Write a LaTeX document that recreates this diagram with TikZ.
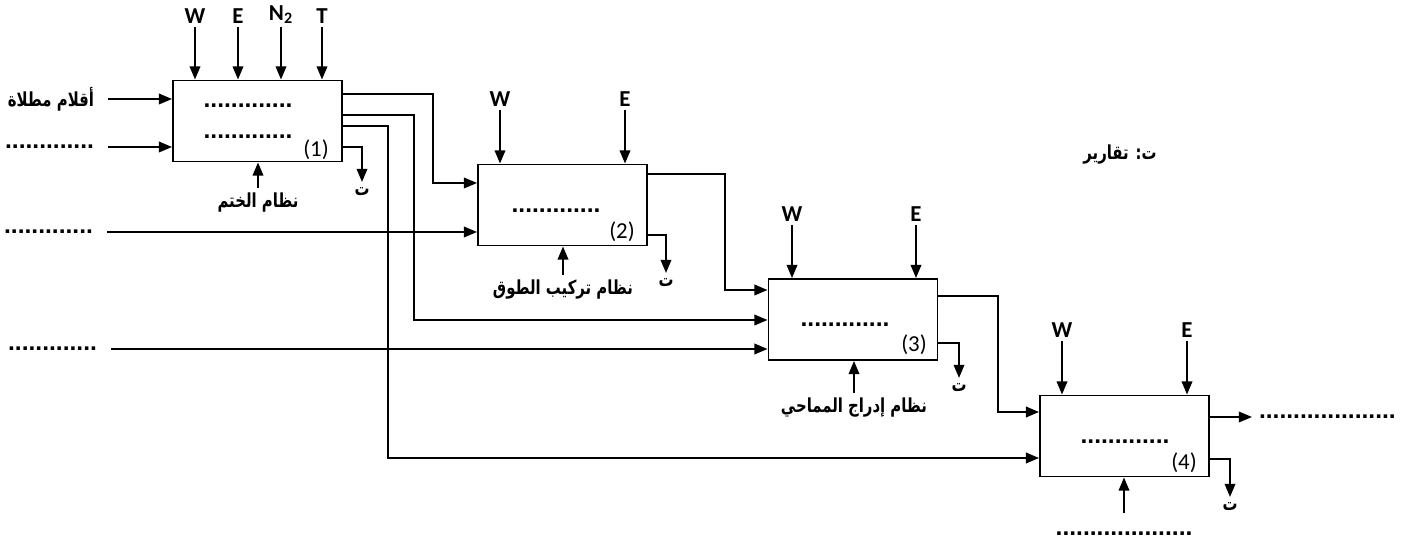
\documentclass[tikz,border=0pt]{standalone}
\usepackage{fontspec}
\setmainfont{Carlito}
\newfontfamily\arabicfont[Script=Arabic, FakeStretch=0.77]{DejaVu Sans}
\newfontfamily\dotfont{Liberation Sans}
\TeXXeTstate=1
\usetikzlibrary{arrows.meta}

\begin{document}
\begin{tikzpicture}[
  x=0.02cm, y=-0.02cm,
  line width=1.1pt,
  >={Triangle[length=7.5pt,width=6pt]},
  blk/.style={draw, minimum width=3.38cm, minimum height=1.62cm, inner sep=0pt},
  arr/.style={->},
  lat/.style={font=\bfseries\fontsize{13}{14}\selectfont, inner sep=1pt, outer ysep=1pt, anchor=south},
  artxt/.style={font=\arabicfont\bfseries\fontsize{11}{13}\selectfont, inner sep=1pt},
  dotln/.style={font=\dotfont\bfseries\fontsize{14}{14}\selectfont, inner sep=0pt},
  num/.style={font=\fontsize{13}{14}\selectfont, inner sep=0pt},
  inlbl/.style={inner sep=1pt, outer xsep=7pt, anchor=east},
  below lbl/.style={anchor=north, outer ysep=2pt},
]
\useasboundingbox (0,0) rectangle (1416,543);

% blocks
\node[blk] (b1) at (257.5,121) {};
\node[blk] (b2) at (562.5,205) {};
\node[blk] (b3) at (853,319.5) {};
\node[blk] (b4) at (1124.5,436) {};

\node[dotln] (d1a) at (248,106) {.............};
\node[dotln] (d1b) at (248,137) {.............};
\node[dotln] (d2) at (556,211) {.............};
\node[dotln] (d3) at (845,325) {.............};
\node[dotln] (d4) at (1125,442) {.............};
\node[num] (n1) at (316,150) {(1)};
\node[num] (n2) at (622,232) {(2)};
\node[num] (n3) at (914,345) {(3)};
\node[num] (n4) at (1184,463) {(4)};

% top inputs
\foreach \x/\t/\n in {195/W/a, 238/E/b, 281/N\textsubscript{2}/c, 322/T/d} {
  \node[lat] (t1\n) at (\x,27) {\t};
  \draw[arr] (t1\n.south) -- (t1\n.south |- b1.north);
}
\foreach \x/\t/\n in {500/W/a, 625/E/b} {
  \node[lat] (t2\n) at (\x,110) {\t};
  \draw[arr] (t2\n.south) -- (t2\n.south |- b2.north);
}
\foreach \x/\t/\n in {792/W/a, 916/E/b} {
  \node[lat] (t3\n) at (\x,225) {\t};
  \draw[arr] (t3\n.south) -- (t3\n.south |- b3.north);
}
\foreach \x/\t/\n in {1062/W/a, 1187/E/b} {
  \node[lat] (t4\n) at (\x,341) {\t};
  \draw[arr] (t4\n.south) -- (t4\n.south |- b4.north);
}

% left inputs
\node[artxt, inlbl] (in1) at (108,99) {\beginR أقلام مطلاة\endR};
\node[dotln, inlbl] (in2) at (108,147) {.............};
\node[dotln, inlbl] (in3) at (107,232) {.............};
\node[dotln, inlbl] (in4) at (111,349) {.............};
\draw[arr] (in1.east) -- (in1.east -| b1.west);
\draw[arr] (in2.east) -- (in2.east -| b1.west);
\draw[arr] (in3.east) -- (in3.east -| b2.west);
\draw[arr] (in4.east) -- (in4.east -| b3.west);

% reports
\node[artxt, below lbl] (r1) at (362,182) {\beginR ت\endR};
\node[artxt, below lbl] (r2) at (666,273) {\beginR ت\endR};
\node[artxt, below lbl] (r3) at (959,378) {\beginR ت\endR};
\node[artxt, below lbl] (r4) at (1230,497) {\beginR ت\endR};
\node[artxt] (leg) at (1120,155) {\beginR ت: تقارير\endR};

% control
\node[artxt, below lbl] (s1) at (258,188) {\beginR نظام الختم\endR};
\node[artxt, below lbl] (s2) at (563,275) {\beginR نظام تركيب الطوق\endR};
\node[artxt, below lbl] (s3) at (854,393) {\beginR نظام إدراج المماحي\endR};
\node[dotln, anchor=north, outer ysep=11pt] (s4) at (1124,513) {....................};
\foreach \s/\b in {s1/b1, s2/b2, s3/b3, s4/b4}
  \draw[arr] (\s.north) -- (\s.north |- \b.south);

% flows
\draw[arr] (b1.east |- 0,94) -| (433,183) -- (b2.west |- 0,183);
\draw[arr] (b1.east |- 0,115) -| (414,320) -- (b3.west |- 0,320);
\draw[arr] (b1.east |- 0,126) -| (388,458) -- (b4.west |- 0,458);
\draw[arr] (b2.east |- 0,174) -| (725,290) -- (b3.west |- 0,290);
\draw[arr] (b3.east |- 0,296) -| (998,412) -- (b4.west |- 0,412);
\node[dotln, anchor=west, outer xsep=4pt] (out4) at (1252,417) {....................};
\draw[arr] (b4.east |- 0,417) -- (out4.west);
\draw[arr] (b1.east |- 0,147) -| (r1.north);
\draw[arr] (b2.east |- 0,235) -| (r2.north);
\draw[arr] (b3.east |- 0,343) -| (r3.north);
\draw[arr] (b4.east |- 0,459) -| (r4.north);
\end{tikzpicture}
\end{document}
